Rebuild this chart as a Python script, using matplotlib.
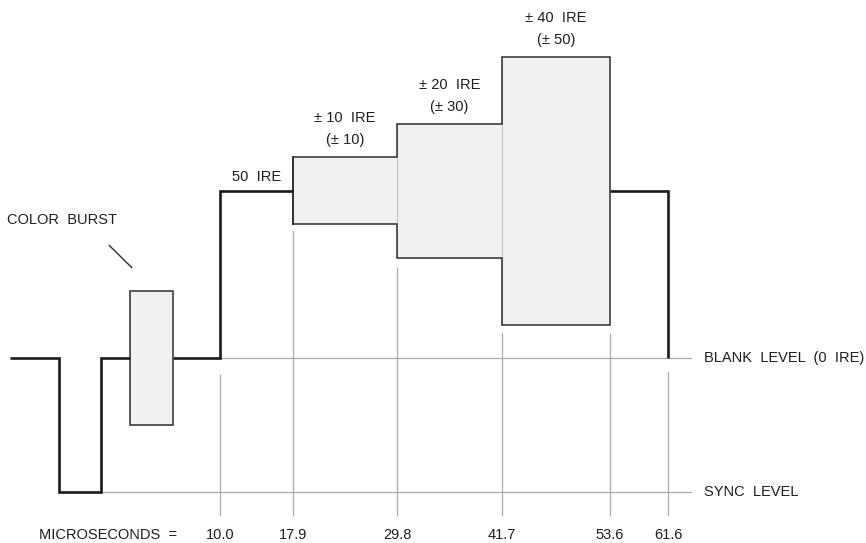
import numpy as np
from matplotlib import pyplot as plt
from matplotlib.patches import Rectangle

plt.rcParams['font.family'] = ['Liberation Sans', 'DejaVu Sans']

# signal levels (IRE)
blank_ire = 0
sync_ire = -40
flat_ire = 50
burst_amp = 20
packet_amps = [10, 20, 40]
packet_titles = ["± 10  IRE", "± 20  IRE", "± 40  IRE"]
packet_subs = ["(± 10)", "(± 30)", "(± 50)"]
usec_labels = ["10.0", "17.9", "29.8", "41.7", "53.6", "61.6"]

# schematic horizontal layout (drawing units, not to scale)
x_start, sync_on, sync_off = 10, 58.7, 101
burst_l, burst_r = 130, 173
x_marks = [220, 293, 397, 502, 610, 668]
x_line_end = 691

# vertical scale: 3.35 px per IRE, blank level at 358 px from top
px_per_ire = 3.35
W, H = 866, 543
y_top = 358 / px_per_ire
y_bot = -(H - 358) / px_per_ire

fig = plt.figure(figsize=(W / 100, H / 100), dpi=100)
ax = fig.add_axes([0, 0, 1, 1])
ax.set_xlim(0, W)
ax.set_ylim(y_bot, y_top)
ax.axis('off')

grey = '#ababab'
dark = '#2e2e2e'
fill = '#f0f1f3'
txt = '#1e1e1e'
fs = 10.5

# reference levels
ax.plot([x_marks[0], x_line_end], [blank_ire, blank_ire], color=grey, lw=0.9, zorder=1)
ax.plot([sync_off, x_line_end], [sync_ire, sync_ire], color=grey, lw=0.9, zorder=1)

# microsecond markers
tick_bottom = sync_ire - 6.9
edges = [blank_ire, flat_ire - packet_amps[0], flat_ire - packet_amps[1],
         flat_ire - packet_amps[2], flat_ire - packet_amps[2], blank_ire]
gaps = [5, 2.2, 3, 2.5, 2.7, 4.2]
for xm, e, g, lab in zip(x_marks, edges, gaps, usec_labels):
    ax.plot([xm, xm], [e - g, tick_bottom], color=grey, lw=0.9, zorder=1)
    ax.text(xm, sync_ire - 12.9, lab, ha='center', va='center', fontsize=fs, color=txt)
ax.text(177, sync_ire - 12.9, "MICROSECONDS  =", ha='right', va='center', fontsize=fs, color=txt)

# modulated packets
bounds = x_marks[1:5]
for i, a in enumerate(packet_amps):
    ax.add_patch(Rectangle((bounds[i], flat_ire - a), bounds[i + 1] - bounds[i], 2 * a,
                           facecolor=fill, edgecolor='none', zorder=2))
    ax.plot([bounds[i], bounds[i]], [flat_ire - a, flat_ire + a], color='#c4c4c4', lw=0.8, zorder=3)
env_x = [bounds[0]]
env_y = [flat_ire - packet_amps[0]]
for i, a in enumerate(packet_amps):
    env_x += [bounds[i], bounds[i + 1]]
    env_y += [flat_ire + a, flat_ire + a]
    if i < len(packet_amps) - 1:
        env_x += [bounds[i + 1]]
        env_y += [flat_ire + packet_amps[i + 1]]
env_x += [bounds[3]]
env_y += [flat_ire - packet_amps[-1]]
for i in range(len(packet_amps) - 1, -1, -1):
    a = packet_amps[i]
    env_x += [bounds[i + 1], bounds[i]]
    env_y += [flat_ire - a, flat_ire - a]
    if i > 0:
        env_x += [bounds[i]]
        env_y += [flat_ire - packet_amps[i - 1]]
ax.plot(env_x, env_y, color=dark, lw=1.1, zorder=4, solid_joinstyle='miter')
ax.plot([bounds[0], bounds[0]], [flat_ire - packet_amps[0], flat_ire + packet_amps[0]],
        color=dark, lw=1.1, zorder=4)

for i, a in enumerate(packet_amps):
    xc = (bounds[i] + bounds[i + 1]) / 2
    top = flat_ire + a
    ax.text(xc, top + 11.6, packet_titles[i], ha='center', va='center', fontsize=fs, color=txt)
    ax.text(xc, top + 5.0, packet_subs[i], ha='center', va='center', fontsize=fs, color=txt)

# color burst
ax.add_patch(Rectangle((burst_l, blank_ire - burst_amp), burst_r - burst_l, 2 * burst_amp,
                       facecolor=fill, edgecolor=dark, lw=1.1, zorder=4))
ax.plot([109.3, 131.7], [33.6, 27.0], color=dark, lw=1.0)
ax.text(7, 41.2, "COLOR  BURST", ha='left', va='center', fontsize=fs, color=txt)

# signal trace
sig = dict(color='#1a1a1a', lw=1.9, zorder=5, solid_joinstyle='miter', solid_capstyle='butt')
ax.plot([x_start, sync_on, sync_on, sync_off, sync_off, burst_l],
        [blank_ire, blank_ire, sync_ire, sync_ire, blank_ire, blank_ire], **sig)
ax.plot([burst_r, x_marks[0], x_marks[0], x_marks[1]],
        [blank_ire, blank_ire, flat_ire, flat_ire], **sig)
ax.plot([x_marks[4], x_marks[5], x_marks[5]], [flat_ire, flat_ire, blank_ire], **sig)
ax.text(257, flat_ire + 4.0, "50  IRE", ha='center', va='center', fontsize=fs, color=txt)

# level labels
ax.text(704, blank_ire, "BLANK  LEVEL  (0  IRE)", ha='left', va='center', fontsize=fs, color=txt)
ax.text(704, sync_ire, "SYNC  LEVEL", ha='left', va='center', fontsize=fs, color=txt)

plt.savefig('out.png', dpi=100)
